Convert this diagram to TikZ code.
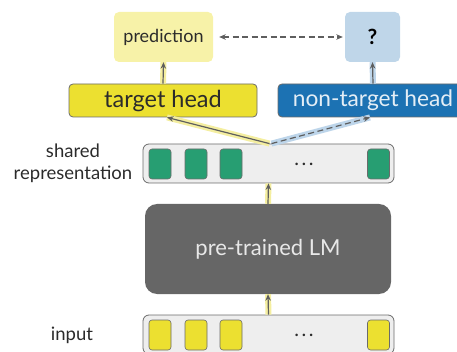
\documentclass[tikz,border=0pt]{standalone}
\usepackage{fontspec}
\setmainfont{Lato}
\usetikzlibrary{arrows.meta,calc}
\definecolor{predfill}{HTML}{F7F2A8}
\definecolor{qfill}{HTML}{BFD6E9}
\definecolor{tyellow}{HTML}{ECE030}
\definecolor{tblue}{HTML}{1C72B3}
\definecolor{bordergray}{HTML}{6B6B6B}
\definecolor{linegray}{HTML}{5E5E5E}
\definecolor{panel}{HTML}{EEEEEE}
\definecolor{lmgray}{HTML}{666666}
\definecolor{tokgreen}{HTML}{279E72}
\definecolor{glowy}{HTML}{F4EEA0}
\definecolor{glowb}{HTML}{BDD5EA}
\definecolor{txt}{HTML}{2B2B2B}
\tikzset{
  outbox/.style={rounded corners=5pt, inner sep=0pt, text=txt},
  headbox/.style={rounded corners=4pt, draw=bordergray, line width=0.8pt, inner sep=0pt, minimum height=33pt},
  panelbox/.style={rounded corners=6pt, draw=bordergray, line width=0.8pt, fill=panel, minimum width=251pt, minimum height=39pt, inner sep=0pt},
  tok/.style={rounded corners=3pt, draw=bordergray, line width=0.6pt, minimum width=22pt, minimum height=30pt, inner sep=0pt},
  conn/.style={draw=linegray, line width=1.2pt, -{Stealth[length=6.5pt,width=5.5pt]}},
  glowY/.style={draw=glowy, line width=6pt},
  glowB/.style={draw=glowb, line width=6pt},
  lbl/.style={text=txt, align=center, font=\fontsize{18.5}{22}\selectfont},
  dotsl/.style={text=txt, inner sep=0pt, font=\fontsize{20}{20}\selectfont}
}
\begin{document}
\begin{tikzpicture}[x=1pt,y=-1pt]
\useasboundingbox (0,0) rectangle (457,352);
\clip (0,0) rectangle (457,352);

% output boxes
\node[outbox, fill=predfill, minimum width=99pt, minimum height=50pt, font=\fontsize{18}{20}\selectfont] (pred) at (163.5,37) {prediction};
\node[outbox, fill=qfill, minimum width=55pt, minimum height=50pt, text=black, font=\fontsize{21}{22}\selectfont\bfseries] (q) at (372.5,37) {?};

% heads
\node[headbox, fill=tyellow, minimum width=188pt, text=txt, font=\fontsize{23.5}{24}\selectfont] (th) at (163,100.5) {target head};
\node[headbox, fill=tblue, minimum width=190pt, text=white!88!tblue, font=\fontsize{22.7}{24}\selectfont] (nth) at (373,100.5) {non-target head};

% shared representation
\node[panelbox] (sr) at (268.5,163.5) {};
\foreach \i/\xx in {1/160,2/196,3/231,4/378.5}
  \node[tok, fill=tokgreen] (g\i) at (\xx,164) {};
\node[dotsl] (srdots) at (304,164) {.\hspace{2.5pt}.\hspace{2.5pt}.};
\node[lbl] (srl) at (73,163) {shared\\representation};

% LM
\node[rounded corners=12pt, fill=lmgray, minimum width=246pt, minimum height=90pt, inner sep=0pt, text=white!85!lmgray, font=\fontsize{22}{24}\selectfont] (lm) at (268,249) {pre-trained LM};

% input
\node[panelbox] (in) at (268.5,334.5) {};
\foreach \i/\xx in {1/160,2/196,3/231,4/378.5}
  \node[tok, fill=tyellow] (y\i) at (\xx,335) {};
\node[dotsl] (indots) at (304,335) {.\hspace{2.5pt}.\hspace{2.5pt}.};
\node[lbl] (inl) at (72,335) {input};

% glows
\path[glowY] (in.north) -- (lm.south);
\path[glowY] (lm.north) -- (sr.south);
\path[glowY] ($(sr.north)+(1,0)$) -- ($(th.south)+(4,0)$);
\path[glowY] (th.north) -- (pred.south);
\path[glowB] ($(sr.north)+(3,0)$) -- ($(nth.south)+(-3,0)$);
\path[glowB] (nth.north) -- (q.south);

% connectors
\draw[conn] (in.north) -- (lm.south);
\draw[conn] (lm.north) -- (sr.south);
\draw[conn] ($(sr.north)+(1,0)$) -- ($(th.south)+(4,0)$);
\draw[conn, dash pattern=on 6pt off 3.5pt] ($(sr.north)+(3,0)$) -- ($(nth.south)+(-3,0)$);
\draw[conn] (th.north) -- (pred.south);
\draw[conn] (nth.north) -- (q.south);
\draw[draw=linegray, line width=1.2pt, dash pattern=on 6pt off 3.5pt, {Stealth[length=6.5pt,width=5.5pt]}-{Stealth[length=6.5pt,width=5.5pt]}] ($(pred.east)+(6,0)$) -- ($(q.west)+(-2,0)$);
\end{tikzpicture}
\end{document}
